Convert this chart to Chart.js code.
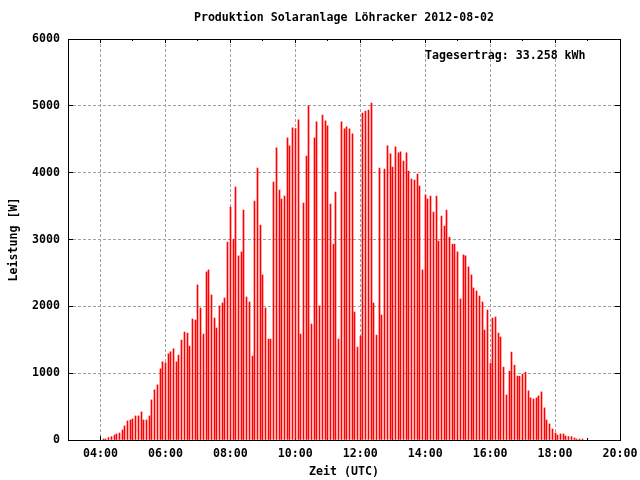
<!DOCTYPE html>
<html>
<head>
<meta charset="utf-8">
<title>Produktion Solaranlage</title>
<script src="https://cdn.jsdelivr.net/npm/chart.js@4.4.0/dist/chart.umd.min.js"></script>
<style>
  html, body { margin: 0; padding: 0; background: #fff; }
  #wrap { width: 640px; height: 480px; }
</style>
</head>
<body>
<div id="wrap"><canvas id="chart" width="640" height="480"></canvas></div>
<script>
  // Messwerte alle 5 Minuten (UTC)
  var times = [
    '04:05','04:10','04:15','04:20','04:25','04:30','04:35','04:40','04:45','04:50','04:55',
    '05:00','05:05','05:10','05:15','05:20','05:25','05:30','05:35','05:40','05:45','05:50','05:55',
    '06:00','06:05','06:10','06:15','06:20','06:25','06:30','06:35','06:40','06:45','06:50','06:55',
    '07:00','07:05','07:10','07:15','07:20','07:25','07:30','07:35','07:40','07:45','07:50','07:55',
    '08:00','08:05','08:10','08:15','08:20','08:25','08:30','08:35','08:40','08:45','08:50','08:55',
    '09:00','09:05','09:10','09:15','09:20','09:25','09:30','09:35','09:40','09:45','09:50','09:55',
    '10:00','10:05','10:10','10:15','10:20','10:25','10:30','10:35','10:40','10:45','10:50','10:55',
    '11:00','11:05','11:10','11:15','11:20','11:25','11:30','11:35','11:40','11:45','11:50','11:55',
    '12:00','12:05','12:10','12:15','12:20','12:25','12:30','12:35','12:40','12:45','12:50','12:55',
    '13:00','13:05','13:10','13:15','13:20','13:25','13:30','13:35','13:40','13:45','13:50','13:55',
    '14:00','14:05','14:10','14:15','14:20','14:25','14:30','14:35','14:40','14:45','14:50','14:55',
    '15:00','15:05','15:10','15:15','15:20','15:25','15:30','15:35','15:40','15:45','15:50','15:55',
    '16:00','16:05','16:10','16:15','16:20','16:25','16:30','16:35','16:40','16:45','16:50','16:55',
    '17:00','17:05','17:10','17:15','17:20','17:25','17:30','17:35','17:40','17:45','17:50','17:55',
    '18:00','18:05','18:10','18:15','18:20','18:25','18:30','18:35','18:40','18:45','18:50'
  ];
  var watts = [
    15, 15, 35, 50, 75, 90, 105, 150, 210, 285, 300,
    315, 360, 360, 420, 300, 300, 360, 600, 750, 825, 1065, 1170,
    1155, 1290, 1320, 1365, 1170, 1270, 1495, 1615, 1600, 1405, 1810, 1795,
    2320, 1975, 1585, 2515, 2545, 2170, 1825, 1675, 2005, 2050, 2125, 2960,
    3485, 3005, 3785, 2755, 2815, 3440, 2140, 2065, 1255, 3575, 4070, 3215,
    2470, 1975, 1510, 1510, 3860, 4370, 3740, 3605, 3650, 4520, 4400, 4670,
    4660, 4790, 1585, 3545, 4250, 5000, 1735, 4520, 4760, 2005, 4860, 4775,
    4700, 3530, 2930, 3710, 1510, 4760, 4655, 4685, 4655, 4580, 1915, 1390,
    1555, 4890, 4920, 4935, 5040, 2050, 1570, 4070, 1870, 4055, 4400, 4280,
    4085, 4385, 4295, 4310, 4175, 4295, 4025, 3905, 3890, 3980, 3800, 2545,
    3665, 3605, 3650, 3410, 3650, 2975, 3350, 3200, 3440, 3035, 2930, 2930,
    2815, 2110, 2770, 2755, 2590, 2470, 2275, 2230, 2155, 2065, 1645, 1945,
    1150, 1825, 1840, 1600, 1540, 1090, 675, 1030, 1315, 1120, 955, 955,
    985, 1015, 735, 630, 615, 630, 660, 720, 480, 300, 240, 165,
    105, 75, 90, 90, 60, 50, 50, 30, 15, 15, 15
  ];

  var xTickLabels = ['04:00', '06:00', '08:00', '10:00', '12:00', '14:00', '16:00', '18:00', '20:00'];
  var xMinorLabels = ['03:00', '05:00', '07:00', '09:00', '11:00', '13:00', '15:00', '17:00', '19:00'];
  var yTickValues = [0, 1000, 2000, 3000, 4000, 5000, 6000];

  var TITLE = 'Produktion Solaranlage Löhracker 2012-08-02';
  var YIELD_TEXT = 'Tagesertrag: 33.258 kWh';

  var FONT_FAMILY = '"DejaVu Sans Mono", "Liberation Mono", monospace';
  var FONT_SIZE = 11.6;

  function toMin(s) {
    var p = s.split(':');
    return parseInt(p[0], 10) * 60 + parseInt(p[1], 10);
  }

  var xTickValues = xTickLabels.map(toMin);
  var xMinorValues = xMinorLabels.map(toMin);
  var points = times.map(function (t, i) { return { x: toMin(t), y: watts[i] }; });

  var font = { family: FONT_FAMILY, size: FONT_SIZE, weight: 'bold' };

  /* ── Rahmen, Tics nach innen, Pixel-Raster für Impulse ── */
  var gnuplotFrame = {
    id: 'gnuplotFrame',
    beforeDatasetsDraw: function (chart) {
      var ctx = chart.ctx, a = chart.chartArea;
      var xs = chart.scales.x, ys = chart.scales.y;

      // Impulse auf ganze Pixelspalten legen (1px wie gnuplot)
      chart.getDatasetMeta(0).data.forEach(function (el) {
        el.x = Math.floor(el.x) + 0.5;
      });

      ctx.save();
      ctx.strokeStyle = '#000';
      ctx.lineWidth = 1;
      ctx.strokeRect(a.left + 0.5, a.top + 0.5, a.right - a.left, a.bottom - a.top);

      ctx.beginPath();
      function xTic(v, len) {
        var px = Math.floor(xs.getPixelForValue(v)) + 0.5;
        ctx.moveTo(px, a.top); ctx.lineTo(px, a.top + len);
        ctx.moveTo(px, a.bottom); ctx.lineTo(px, a.bottom - len);
      }
      xTickValues.forEach(function (v) { xTic(v, 4); });
      xMinorValues.forEach(function (v) { xTic(v, 2); });
      yTickValues.forEach(function (v) {
        var py = Math.floor(ys.getPixelForValue(v)) + 0.5;
        ctx.moveTo(a.left, py); ctx.lineTo(a.left + 5, py);
        ctx.moveTo(a.right, py); ctx.lineTo(a.right - 5, py);
      });
      ctx.stroke();
      ctx.restore();
    },
    afterDraw: function (chart) {
      var ctx = chart.ctx, a = chart.chartArea;
      ctx.save();
      ctx.fillStyle = '#000';
      ctx.font = 'bold ' + FONT_SIZE + 'px ' + FONT_FAMILY;
      ctx.textBaseline = 'middle';
      ctx.textAlign = 'center';
      ctx.fillText(TITLE, (a.left + a.right) / 2, 18);
      ctx.textAlign = 'left';
      ctx.fillText(YIELD_TEXT, 425, 56);
      ctx.restore();
    }
  };

  new Chart(document.getElementById('chart').getContext('2d'), {
    type: 'bar',
    data: {
      datasets: [{
        label: 'Leistung',
        data: points,
        backgroundColor: '#ff0000',
        borderWidth: 0,
        barThickness: 1
      }]
    },
    options: {
      responsive: false,
      animation: false,
      devicePixelRatio: 1,
      layout: { padding: { left: 0, right: 20, top: 39, bottom: 0 } },
      plugins: {
        legend: { display: false },
        tooltip: { enabled: false },
        title: { display: false }
      },
      scales: {
        x: {
          type: 'linear',
          min: 180,
          max: 1200,
          offset: false,
          afterBuildTicks: function (scale) {
            scale.ticks = xTickValues.map(function (v) { return { value: v }; });
          },
          afterFit: function (scale) {
            scale.height = 40;
            scale.paddingLeft = 0;
            scale.paddingRight = 0;
          },
          ticks: {
            autoSkip: false,
            maxRotation: 0,
            padding: 7,
            color: '#000',
            font: font,
            callback: function (v) {
              var i = xTickValues.indexOf(v);
              return i >= 0 ? xTickLabels[i] : '';
            }
          },
          grid: { color: '#a0a0a0', lineWidth: 1, drawTicks: false, offset: false },
          border: { display: false, dash: [3, 2] },
          title: {
            display: true,
            text: 'Zeit (UTC)',
            color: '#000',
            font: font,
            padding: { top: 0, bottom: 1 }
          }
        },
        y: {
          min: 0,
          max: 6000,
          afterBuildTicks: function (scale) {
            scale.ticks = yTickValues.map(function (v) { return { value: v }; });
          },
          afterFit: function (scale) {
            scale.width = 68;
            scale.paddingTop = 0;
            scale.paddingBottom = 0;
          },
          ticks: {
            padding: 8,
            color: '#000',
            font: font,
            callback: function (v) { return String(v); }
          },
          grid: { color: '#a0a0a0', lineWidth: 1, drawTicks: false },
          border: { display: false, dash: [3, 2] },
          title: {
            display: true,
            text: 'Leistung [W]',
            color: '#000',
            font: font,
            padding: { top: 7, bottom: 0 }
          }
        }
      }
    },
    plugins: [gnuplotFrame]
  });
</script>
</body>
</html>
